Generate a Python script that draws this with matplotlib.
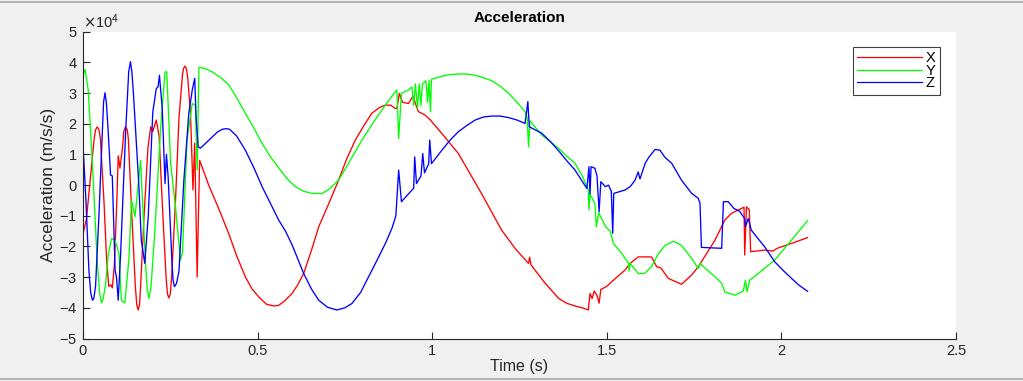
import numpy as np
import matplotlib
matplotlib.use('Agg')
import matplotlib.pyplot as plt
from matplotlib.ticker import ScalarFormatter
from matplotlib.lines import Line2D

# values, acceleration in units of 1e4 m/s/s
t_x = [0.000, 0.010, 0.022, 0.032, 0.036, 0.041, 0.046, 0.050, 0.060, 0.068,
       0.074, 0.080, 0.084, 0.090, 0.097, 0.101, 0.106, 0.113, 0.117, 0.122,
       0.127, 0.130, 0.140, 0.150, 0.154, 0.158, 0.162, 0.165, 0.175, 0.186,
       0.194, 0.200, 0.210, 0.218, 0.228, 0.238, 0.242, 0.246, 0.250, 0.254,
       0.265, 0.275, 0.285, 0.288, 0.292, 0.296, 0.300, 0.308, 0.315, 0.320,
       0.327, 0.334, 0.360, 0.390, 0.418, 0.440, 0.465, 0.485, 0.503, 0.525,
       0.546, 0.560, 0.575, 0.599, 0.615, 0.632, 0.655, 0.675, 0.704, 0.732,
       0.755, 0.780, 0.805, 0.827, 0.848, 0.866, 0.882, 0.894, 0.899, 0.906,
       0.915, 0.932, 0.945, 0.960, 0.980, 0.995, 1.030, 1.075, 1.140, 1.199,
       1.240, 1.276, 1.279, 1.283, 1.320, 1.362, 1.385, 1.409, 1.430, 1.447,
       1.452, 1.458, 1.464, 1.472, 1.478, 1.483, 1.500, 1.514, 1.552, 1.567,
       1.590, 1.628, 1.643, 1.655, 1.676, 1.714, 1.743, 1.762, 1.771, 1.810,
       1.838, 1.857, 1.886, 1.893, 1.895, 1.900, 1.908, 1.912, 1.952, 1.975,
       1.990, 2.029, 2.075]
acc_x = [-1.60, -1.10, 0.30, 1.50, 1.80, 1.90, 1.80, 1.50, -0.50, -2.50,
         -3.30, -3.25, -3.35, -2.60, -0.50, 0.95, 0.55, 1.20, 1.75, 1.90,
         1.80, 1.50, -1.00, -3.30, -3.90, -4.07, -3.90, -3.30, -1.00, 1.20,
         1.90, 1.75, 2.12, 1.60, -0.80, -3.00, -3.55, -3.68, -3.55, -3.00,
         -0.50, 2.20, 3.60, 3.80, 3.88, 3.80, 3.50, 2.34, -0.16, 1.37,
         -2.99, 0.81, 0.00, -0.80, -1.60, -2.30, -2.99, -3.40, -3.64, -3.88,
         -3.94, -3.92, -3.80, -3.53, -3.25, -2.88, -2.10, -1.36, -0.60, 0.16,
         0.85, 1.47, 1.95, 2.34, 2.52, 2.61, 2.60, 2.50, 2.50, 2.99,
         2.70, 2.66, 2.90, 2.40, 2.28, 2.12, 1.65, 1.03, -0.25, -1.47,
         -2.10, -2.55, -2.35, -2.60, -3.15, -3.69, -3.85, -3.94, -4.00, -4.07,
         -3.53, -3.70, -3.45, -3.60, -3.85, -3.40, -3.30, -3.15, -2.77, -2.55,
         -2.34, -2.34, -2.66, -2.70, -3.04, -3.23, -2.93, -2.66, -2.50, -1.79,
         -1.14, -0.92, -0.76, -0.72, -2.28, -0.71, -0.80, -2.17, -2.12, -2.15,
         -2.05, -1.90, -1.71]

t_y = [0.000, 0.006, 0.015, 0.027, 0.041, 0.048, 0.053, 0.058, 0.065, 0.072,
       0.082, 0.092, 0.103, 0.110, 0.120, 0.132, 0.139, 0.149, 0.165, 0.179,
       0.184, 0.189, 0.195, 0.206, 0.222, 0.235, 0.240, 0.251, 0.265, 0.279,
       0.285, 0.298, 0.313, 0.322, 0.327, 0.332, 0.350, 0.370, 0.395, 0.418,
       0.440, 0.465, 0.490, 0.513, 0.537, 0.561, 0.585, 0.608, 0.632, 0.656,
       0.685, 0.704, 0.732, 0.765, 0.799, 0.832, 0.866, 0.885, 0.899, 0.904,
       0.912, 0.932, 0.942, 0.947, 0.952, 0.958, 0.963, 0.968, 0.972, 0.982,
       0.987, 0.991, 0.995, 0.998, 1.028, 1.050, 1.075, 1.100, 1.123, 1.147,
       1.171, 1.195, 1.219, 1.243, 1.266, 1.272, 1.276, 1.280, 1.314, 1.340,
       1.362, 1.385, 1.409, 1.430, 1.447, 1.449, 1.452, 1.466, 1.470, 1.477,
       1.497, 1.510, 1.519, 1.543, 1.562, 1.564, 1.567, 1.590, 1.608, 1.628,
       1.648, 1.667, 1.691, 1.714, 1.743, 1.762, 1.767, 1.781, 1.810, 1.829,
       1.838, 1.867, 1.891, 1.897, 1.902, 1.909, 1.934, 1.981, 2.029, 2.075]
acc_y = [3.58, 3.77, 3.10, 0.71, -2.54, -3.55, -3.84, -3.70, -3.20, -2.28,
         -1.74, -1.80, -2.23, -3.75, -3.84, -2.34, -0.49, -1.03, 0.81, -2.55,
         -3.40, -3.69, -3.30, -1.47, 1.79, 3.69, 3.69, 0.71, -0.71, -2.44,
         -2.20, 1.47, 2.66, 2.60, 0.49, 3.84, 3.80, 3.69, 3.50, 3.26,
         2.85, 2.34, 1.85, 1.36, 0.92, 0.55, 0.20, -0.05, -0.20, -0.27,
         -0.27, -0.14, 0.16, 0.80, 1.47, 2.05, 2.61, 2.90, 3.10, 1.52,
         2.99, 3.10, 3.20, 2.60, 3.30, 2.50, 3.30, 2.60, 3.30, 3.40,
         2.70, 3.42, 2.39, 3.45, 3.55, 3.60, 3.62, 3.62, 3.58, 3.50,
         3.40, 3.22, 2.99, 2.70, 2.39, 2.20, 1.25, 2.10, 1.63, 1.40,
         1.20, 0.95, 0.71, 0.30, -0.16, -0.81, -0.30, -0.60, -1.36, -0.90,
         -1.36, -1.50, -1.90, -2.23, -2.55, -2.80, -2.55, -2.88, -2.88, -2.66,
         -2.23, -1.96, -1.83, -1.96, -2.39, -2.72, -2.55, -2.70, -2.99, -3.20,
         -3.48, -3.59, -3.45, -3.10, -3.48, -3.10, -2.88, -2.44, -1.79, -1.16]

t_z = [0.000, 0.008, 0.017, 0.022, 0.027, 0.031, 0.036, 0.046, 0.055, 0.059,
       0.063, 0.067, 0.072, 0.079, 0.084, 0.092, 0.096, 0.101, 0.108, 0.122,
       0.131, 0.136, 0.140, 0.145, 0.160, 0.167, 0.177, 0.187, 0.200, 0.210,
       0.215, 0.219, 0.227, 0.235, 0.239, 0.244, 0.255, 0.258, 0.262, 0.268,
       0.275, 0.289, 0.303, 0.313, 0.320, 0.324, 0.330, 0.336, 0.350, 0.370,
       0.385, 0.399, 0.410, 0.420, 0.440, 0.465, 0.490, 0.513, 0.537, 0.561,
       0.580, 0.599, 0.615, 0.632, 0.655, 0.675, 0.700, 0.727, 0.750, 0.770,
       0.795, 0.818, 0.842, 0.866, 0.885, 0.896, 0.904, 0.912, 0.947, 0.950,
       0.955, 0.968, 0.973, 0.978, 0.990, 0.993, 0.998, 1.028, 1.050, 1.075,
       1.100, 1.123, 1.147, 1.171, 1.195, 1.219, 1.243, 1.266, 1.274, 1.278,
       1.314, 1.340, 1.362, 1.385, 1.409, 1.443, 1.449, 1.452, 1.455, 1.466,
       1.472, 1.478, 1.483, 1.496, 1.505, 1.513, 1.517, 1.520, 1.552, 1.567,
       1.581, 1.590, 1.595, 1.610, 1.620, 1.638, 1.652, 1.667, 1.686, 1.714,
       1.743, 1.762, 1.767, 1.771, 1.829, 1.834, 1.848, 1.864, 1.880, 1.895,
       1.897, 1.905, 1.914, 1.930, 1.952, 1.981, 2.005, 2.029, 2.050, 2.075]
acc_z = [1.36, -0.38, -2.77, -3.50, -3.75, -3.70, -3.30, -0.92, 1.60, 2.70,
         3.01, 2.70, 1.80, 0.33, 0.30, -2.77, -3.00, -3.75, -2.20, 1.69,
         3.70, 4.02, 3.70, 2.90, 0.00, -1.79, -2.55, -1.00, 2.39, 3.15,
         3.20, 3.58, 2.50, 0.05, 1.00, 0.25, -2.55, -3.10, -3.31, -3.20,
         -2.80, 0.16, 2.34, 3.10, 3.48, 2.20, 1.25, 1.20, 1.35, 1.57,
         1.73, 1.82, 1.84, 1.82, 1.60, 1.14, 0.55, -0.05, -0.60, -1.15,
         -1.50, -1.95, -2.40, -2.88, -3.40, -3.75, -3.98, -4.07, -4.00, -3.86,
         -3.50, -2.99, -2.45, -1.90, -1.40, -1.00, 0.49, -0.54, -0.10, 0.92,
         0.05, 0.30, 1.03, 0.40, 0.70, 1.47, 0.70, 1.14, 1.45, 1.74,
         1.95, 2.12, 2.22, 2.25, 2.25, 2.20, 2.12, 2.01, 2.72, 1.90,
         1.69, 1.40, 1.12, 0.80, 0.49, -0.11, 0.60, -0.30, 0.60, 0.55,
         0.30, -0.87, 0.11, -0.05, 0.00, -0.20, -1.57, -0.27, -0.16, -0.05,
         0.16, 0.43, 0.20, 0.71, 0.90, 1.16, 1.14, 0.90, 0.71, 0.16,
         -0.27, -0.43, -0.60, -2.03, -2.06, -0.54, -0.54, -0.76, -0.85, -1.09,
         -1.35, -1.09, -1.47, -1.70, -2.01, -2.50, -2.78, -3.04, -3.26, -3.46]

labels = ['X', 'Y', 'Z']
colors = ['#ff0000', '#00ff00', '#0000ff']
xticks = [0, 0.5, 1, 1.5, 2, 2.5]
yticks = np.arange(-5, 6) * 1e4

plt.rcParams['font.family'] = ['Liberation Sans', 'DejaVu Sans']
plt.rcParams['axes.unicode_minus'] = False
txt = '#262626'

fig = plt.figure(figsize=(10.23, 3.81), dpi=100)
fig.patch.set_facecolor('#f0f0f0')
ax = fig.add_axes([0.0811, 0.1115, 0.8534, 0.8053])
ax.set_facecolor('white')

series = [(t_x, acc_x), (t_y, acc_y), (t_z, acc_z)]
for (t, a), lab, c in zip(series, labels, colors):
    ax.plot(t, np.array(a) * 1e4, color=c, lw=0.95, label=lab)

ax.set_xlim(0, 2.5)
ax.set_ylim(-5e4, 5e4)
ax.set_xticks(xticks)
ax.set_xticklabels(['0', '0.5', '1', '1.5', '2', '2.5'])
ax.set_yticks(yticks)
fmt = ScalarFormatter(useMathText=True)
fmt.set_powerlimits((0, 0))
ax.yaxis.set_major_formatter(fmt)
ax.yaxis.get_offset_text().set_fontsize(10.5)
ax.yaxis.get_offset_text().set_color(txt)

for s in ['top', 'right']:
    ax.spines[s].set_visible(False)
for s in ['left', 'bottom']:
    ax.spines[s].set_color(txt)
    ax.spines[s].set_linewidth(0.8)
ax.tick_params(direction='in', length=5, width=0.8, colors=txt,
               labelsize=10.5, pad=4)

ax.set_title('Acceleration', fontsize=11, fontweight='bold', color='black', pad=7)
ax.set_xlabel('Time (s)', fontsize=11.5, color=txt, labelpad=1)
ax.set_ylabel('Acceleration (m/s/s)', fontsize=12.5, color=txt, labelpad=2)

leg = ax.legend(loc='upper right', bbox_to_anchor=(0.9817, 0.95),
                borderaxespad=0, fontsize=10.5, labelspacing=-0.1,
                handlelength=4.4, handletextpad=0.3, borderpad=0.3,
                fancybox=False, framealpha=1)
leg.get_frame().set_edgecolor('#404040')
leg.get_frame().set_linewidth(0.8)
for lh in leg.get_lines():
    lh.set_linewidth(0.9)

# window frame lines
fig.add_artist(Line2D([0, 1], [0.994, 0.994], color='#a8a8a8', lw=1.2))
fig.add_artist(Line2D([0, 1], [0.006, 0.006], color='#a8a8a8', lw=1.2))

fig.savefig('out.png', dpi=100, facecolor=fig.get_facecolor())
